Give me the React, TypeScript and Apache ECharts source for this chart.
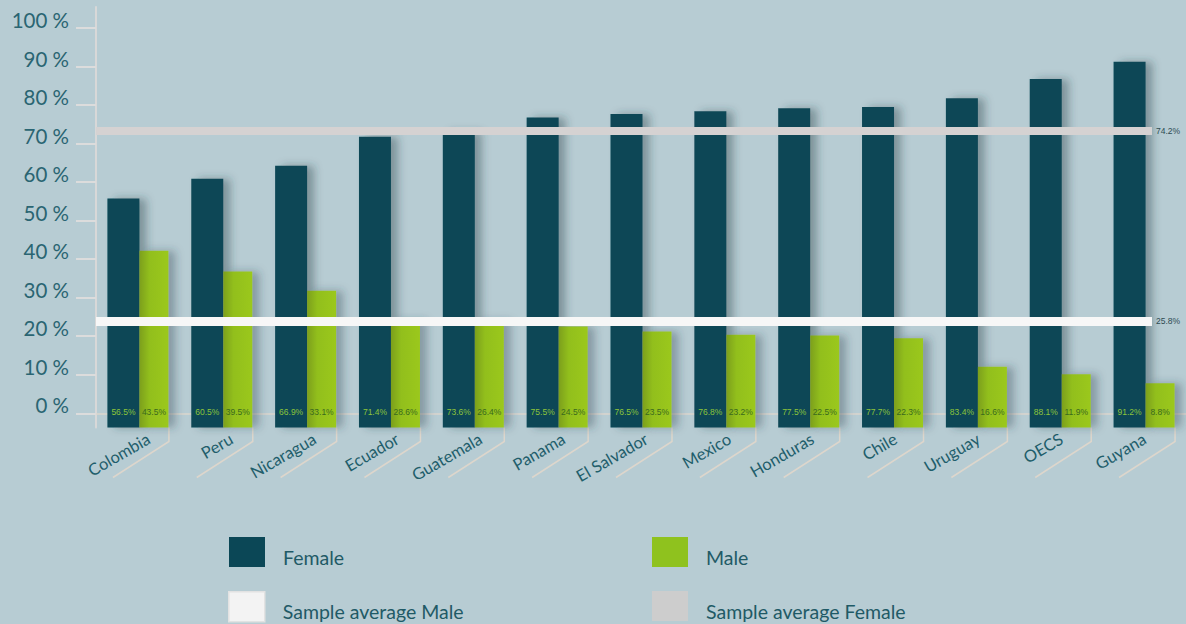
import React, { useEffect, useRef } from 'react';
import * as echarts from 'echarts';

const categories = ['Colombia', 'Peru', 'Nicaragua', 'Ecuador', 'Guatemala', 'Panama', 'El Salvador', 'Mexico', 'Honduras', 'Chile', 'Uruguay', 'OECS', 'Guyana'];
// bar heights as drawn in the picture (read on the % axis)
const femaleValues = [55.8, 60.9, 64.3, 71.8, 73.1, 76.8, 77.7, 78.4, 79.2, 79.5, 81.8, 86.8, 91.3];
const maleValues = [42.2, 36.8, 31.8, 24.2, 24.0, 22.5, 21.2, 20.4, 20.2, 19.5, 12.1, 10.1, 7.8];
// printed labels inside the bars
const femaleLabels = ['56.5%', '60.5%', '66.9%', '71.4%', '73.6%', '75.5%', '76.5%', '76.8%', '77.5%', '77.7%', '83.4%', '88.1%', '91.2%'];
const maleLabels = ['43.5%', '39.5%', '33.1%', '28.6%', '26.4%', '24.5%', '23.5%', '23.2%', '22.5%', '22.3%', '16.6%', '11.9%', '8.8%'];
const avgFemale = 73.3;
const avgMale = 24.0;
const avgFemaleLabel = '74.2%';
const avgMaleLabel = '25.8%';
const yTicks = [0, 10, 20, 30, 40, 50, 60, 70, 80, 90, 100];
const yMin = -3.7;
const yMax = 105.5;

const FONT = 'Lato, "Open Sans", sans-serif';
const BG = '#b7ccd3';
const FEMALE = '#0b4756';
const MALE = '#8fc21e';

export default function App() {
  const ref = useRef<HTMLDivElement>(null);
  useEffect(() => {
    const chart = echarts.init(ref.current as HTMLDivElement, null, { renderer: 'svg' });
    const gridTop = 7;
    const gridH = 420.5;
    const option: any = {
      animation: false,
      backgroundColor: BG,
      grid: [
        { left: 96, top: gridTop, width: 1092, height: gridH },
        { left: 96, top: gridTop, right: 34, height: gridH },
        { left: 107, top: gridTop, width: 1092, height: gridH },
      ],
      xAxis: [
        {
          type: 'category', gridIndex: 0, data: categories,
          axisLine: { show: true, lineStyle: { color: '#dbd6ce', width: 1.5 } },
          axisTick: { show: false }, axisLabel: { show: false },
        },
        { type: 'value', gridIndex: 1, min: 0, max: 1, show: false },
        {
          type: 'category', gridIndex: 2, data: categories,
          axisLine: { show: false }, axisTick: { show: false },
          axisLabel: { rotate: 30, margin: 10, fontSize: 16.5, color: '#1f5e6b', fontFamily: FONT, interval: 0 },
        },
      ],
      yAxis: [
        {
          type: 'value', gridIndex: 0, min: yMin, max: yMax, startValue: yMin,
          splitLine: { show: false },
          axisLine: { show: true, lineStyle: { color: '#d8d8d8', width: 2 } },
          axisTick: { show: true, length: 20, customValues: yTicks, lineStyle: { color: '#dcdcdc', width: 2 } },
          axisLabel: {
            customValues: yTicks, margin: 27, fontSize: 20.5, color: '#2a6572', fontFamily: FONT,
            verticalAlign: 'bottom', lineHeight: 16,
            formatter: (v: number) => `${v} %`,
          },
        },
        { type: 'value', gridIndex: 1, min: yMin, max: yMax, show: false },
        { type: 'value', gridIndex: 2, min: 0, max: 1, show: false },
      ],
      legend: [
        { data: [{ name: 'Female', icon: 'rect', itemStyle: { color: FEMALE } }], left: 229, top: 537 },
        { data: [{ name: 'Male', icon: 'rect', itemStyle: { color: MALE } }], left: 652, top: 537 },
        { data: [{ name: 'Sample average Male', icon: 'rect', itemStyle: { color: '#f3f3f3', borderColor: '#e2e2e2', borderWidth: 1.5 } }], left: 228, top: 591 },
        { data: [{ name: 'Sample average Female', icon: 'rect', itemStyle: { color: '#cdcdcd' } }], left: 652, top: 591 },
      ].map((l) => ({
        ...l, padding: 0, itemWidth: 36, itemHeight: 30, selectedMode: false,
        formatter: (name: string) => `{t|${name}}`,
        textStyle: {
          fontSize: 19.5, color: '#1f5a66', fontFamily: FONT,
          rich: { t: { fontSize: 19.5, color: '#1f5a66', fontFamily: FONT, padding: [10, 0, 0, 13] } },
        },
      })),
      series: [
        {
          name: 'Female', type: 'bar', xAxisIndex: 0, yAxisIndex: 0, data: femaleValues,
          barWidth: 32, barGap: '0%',
          itemStyle: { color: FEMALE, shadowColor: 'rgba(40,60,70,0.4)', shadowBlur: 9, shadowOffsetX: 7 },
          label: {
            show: true, position: 'insideBottom', distance: 11, fontSize: 8.5, color: '#8cc43a',
            fontFamily: '"Liberation Sans", sans-serif',
            formatter: (p: any) => femaleLabels[p.dataIndex],
          },
        },
        {
          name: 'Male', type: 'bar', xAxisIndex: 0, yAxisIndex: 0, data: maleValues,
          barWidth: 29, barGap: '0%',
          itemStyle: {
            color: new echarts.graphic.LinearGradient(0, 0, 1, 0, [
              { offset: 0, color: '#7c9f1f' },
              { offset: 0.35, color: '#92bf1e' },
              { offset: 1, color: '#9bc81c' },
            ]),
            shadowColor: 'rgba(40,60,70,0.35)', shadowBlur: 9, shadowOffsetX: 7,
          },
          label: {
            show: true, position: 'insideBottom', distance: 11, fontSize: 8.5, color: '#3a6a1c',
            fontFamily: '"Liberation Sans", sans-serif',
            formatter: (p: any) => maleLabels[p.dataIndex],
          },
        },
        {
          name: 'Sample average Male', type: 'line', xAxisIndex: 1, yAxisIndex: 1, data: [],
          color: '#f7f7f7',
          markLine: {
            silent: true, symbol: ['none', 'none'], z: 10,
            data: [{ yAxis: avgMale }],
            lineStyle: { color: '#f7f7f7', width: 9, type: 'solid' },
            label: { position: 'end', distance: 4, formatter: avgMaleLabel, fontSize: 8.5, color: '#2d4b52', fontFamily: '"Liberation Sans", sans-serif' },
          },
        },
        {
          name: 'Sample average Female', type: 'line', xAxisIndex: 1, yAxisIndex: 1, data: [],
          color: '#d5d2d2',
          markLine: {
            silent: true, symbol: ['none', 'none'], z: 10,
            data: [{ yAxis: avgFemale }],
            lineStyle: { color: '#d5d2d2', width: 8, type: 'solid' },
            label: { position: 'end', distance: 4, formatter: avgFemaleLabel, fontSize: 8.5, color: '#2d4b52', fontFamily: '"Liberation Sans", sans-serif' },
          },
        },
      ],
    };
    chart.setOption(option);
    const yBase = chart.convertToPixel({ yAxisIndex: 0 }, yMin) as number;
    const deco = categories.map((c) => {
      const x = chart.convertToPixel({ xAxisIndex: 0 }, c) as number;
      return {
        type: 'polyline', silent: true, z: 1,
        shape: { points: [[x + 31, yBase], [x + 31, yBase + 14], [x - 25, yBase + 50]] },
        style: { stroke: '#ddd6cc', lineWidth: 1.5, fill: 'none' },
      };
    });
    chart.setOption({ graphic: deco });
    return () => chart.dispose();
  }, []);
  return <div ref={ref} style={{ position: 'absolute', left: 0, top: 0, width: 1186, height: 624 }} />;
}
